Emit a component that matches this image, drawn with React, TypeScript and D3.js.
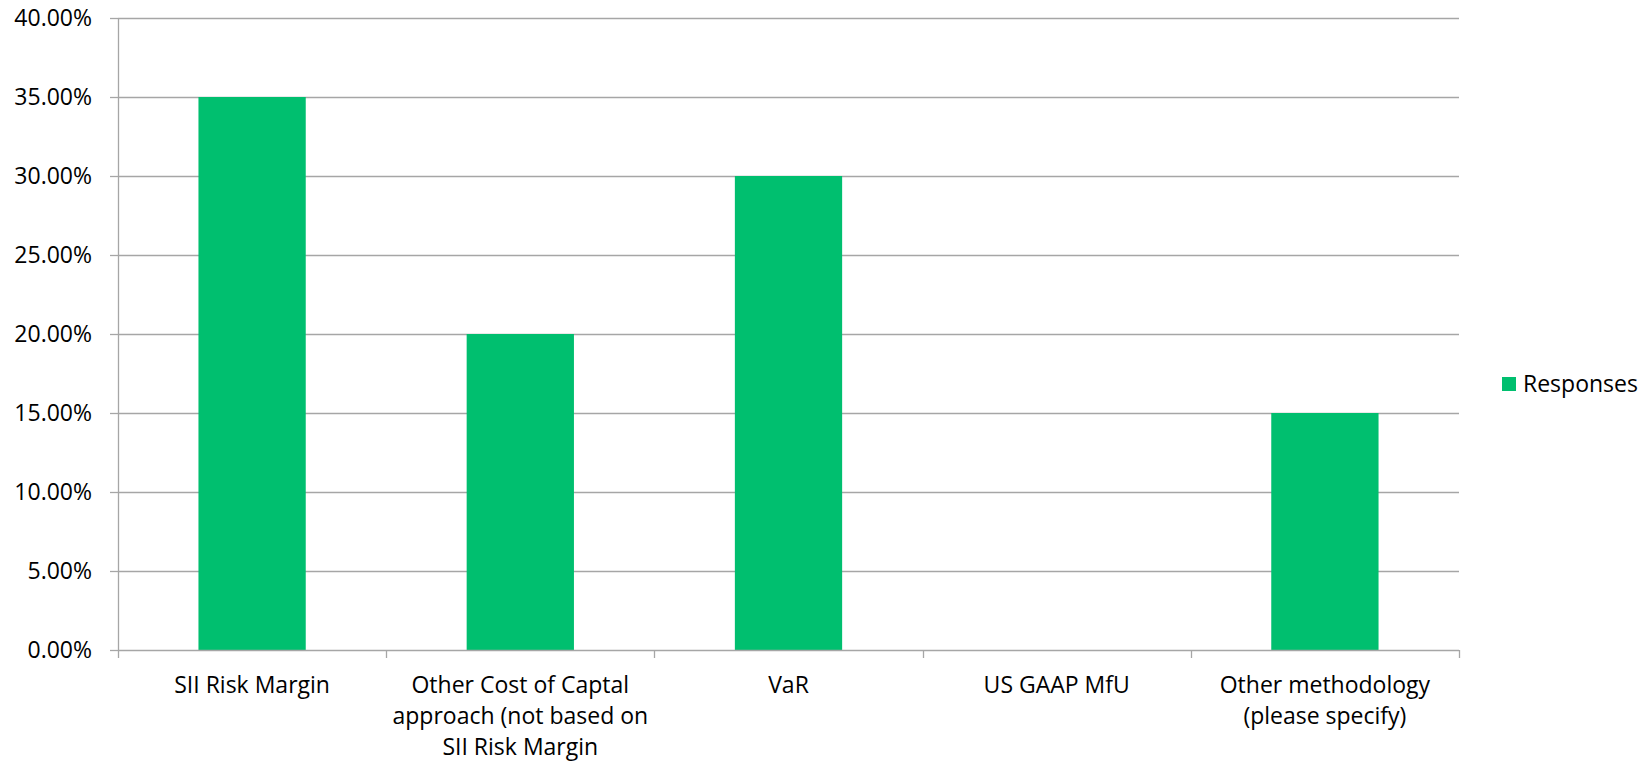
import React, { useRef, useEffect } from 'react';
import * as d3 from 'd3';

const categories = [
  'SII Risk Margin',
  'Other Cost of Captal approach (not based on SII Risk Margin)',
  'VaR',
  'US GAAP MfU',
  'Other methodology (please specify)',
];
const categoryLines = [
  ['SII Risk Margin'],
  ['Other Cost of Captal', 'approach (not based on', 'SII Risk Margin'],
  ['VaR'],
  ['US GAAP MfU'],
  ['Other methodology', '(please specify)'],
];
const responses = [0.35, 0.2, 0.3, 0, 0.15];
const yTicks = [0, 0.05, 0.1, 0.15, 0.2, 0.25, 0.3, 0.35, 0.4];
const seriesName = 'Responses';

const App = () => {
  const svgRef = useRef<SVGSVGElement>(null);

  useEffect(() => {
    const svg = d3.select(svgRef.current);
    svg.selectAll('*').remove();

    const width = 1652;
    const height = 763;
    const margin = { top: 18, right: 193, bottom: 113, left: 118 };
    const chartWidth = width - margin.left - margin.right;
    const chartHeight = height - margin.top - margin.bottom;
    const font = '"Open Sans", sans-serif';
    const fontSize = '23px';
    const grid = '#a6a6a6';
    const green = '#00bf6f';

    const g = svg
      .append('g')
      .attr('transform', `translate(${margin.left}, ${margin.top})`);

    const xScale = d3
      .scaleBand()
      .domain(categories)
      .range([0, chartWidth])
      .paddingInner(0.6)
      .paddingOuter(0.3);

    const yScale = d3.scaleLinear().domain([0, 0.4]).range([chartHeight, 0]);

    // Gridlines
    g.selectAll('.grid')
      .data(yTicks.slice(1))
      .enter()
      .append('line')
      .attr('x1', 0)
      .attr('x2', chartWidth)
      .attr('y1', (d) => Math.round(yScale(d)) + 0.5)
      .attr('y2', (d) => Math.round(yScale(d)) + 0.5)
      .attr('stroke', grid)
      .attr('stroke-width', 1.3);

    // Bars
    g.selectAll('.bar')
      .data(responses)
      .enter()
      .append('rect')
      .attr('x', (_, i) => xScale(categories[i]))
      .attr('y', (d) => yScale(d))
      .attr('width', xScale.bandwidth())
      .attr('height', (d) => chartHeight - yScale(d))
      .attr('fill', green);

    // Y axis
    const yAxis = g
      .append('g')
      .call(
        d3
          .axisLeft(yScale)
          .tickValues(yTicks)
          .tickSize(8)
          .tickPadding(18)
          .tickFormat((d) => `${(+d * 100).toFixed(2)}%`)
      );
    yAxis.select('.domain').attr('stroke', grid).attr('stroke-width', 1.3).attr('d', `M0.5,0V${chartHeight}`);
    yAxis.selectAll('.tick line').attr('stroke', grid).attr('stroke-width', 1.3);
    yAxis
      .selectAll('.tick text')
      .attr('fill', '#000')
      .style('font-family', font)
      .style('font-size', fontSize);

    // X axis
    const tickPos = d3.range(categories.length + 1).map((i) => i * (chartWidth / categories.length));
    const xAxis = g.append('g').attr('transform', `translate(0, ${chartHeight})`);
    xAxis
      .append('line')
      .attr('x1', 0)
      .attr('x2', chartWidth)
      .attr('y1', 0.5)
      .attr('y2', 0.5)
      .attr('stroke', grid)
      .attr('stroke-width', 1.3);
    xAxis
      .selectAll('.xtick')
      .data(tickPos)
      .enter()
      .append('line')
      .attr('x1', (d) => Math.round(d) + 0.5)
      .attr('x2', (d) => Math.round(d) + 0.5)
      .attr('y1', 0)
      .attr('y2', 8)
      .attr('stroke', grid)
      .attr('stroke-width', 1.3);

    categoryLines.forEach((lines, i) => {
      const cx = xScale(categories[i]) + xScale.bandwidth() / 2;
      const t = xAxis
        .append('text')
        .attr('text-anchor', 'middle')
        .attr('fill', '#000')
        .style('font-family', font)
        .style('font-size', fontSize);
      lines.forEach((line, j) => {
        t.append('tspan')
          .attr('x', cx)
          .attr('y', 43 + j * 31)
          .text(line);
      });
    });

    // Legend
    const legend = svg.append('g').attr('transform', `translate(1502, 377)`);
    legend.append('rect').attr('width', 14).attr('height', 14).attr('fill', green);
    legend
      .append('text')
      .attr('x', 21)
      .attr('y', 15)
      .attr('fill', '#000')
      .style('font-family', font)
      .style('font-size', fontSize)
      .text(seriesName);
  }, []);

  return (
    <svg
      ref={svgRef}
      width={1652}
      height={763}
      style={{ position: 'absolute', left: 0, top: 0, background: '#fff' }}
    />
  );
};

export default App;
